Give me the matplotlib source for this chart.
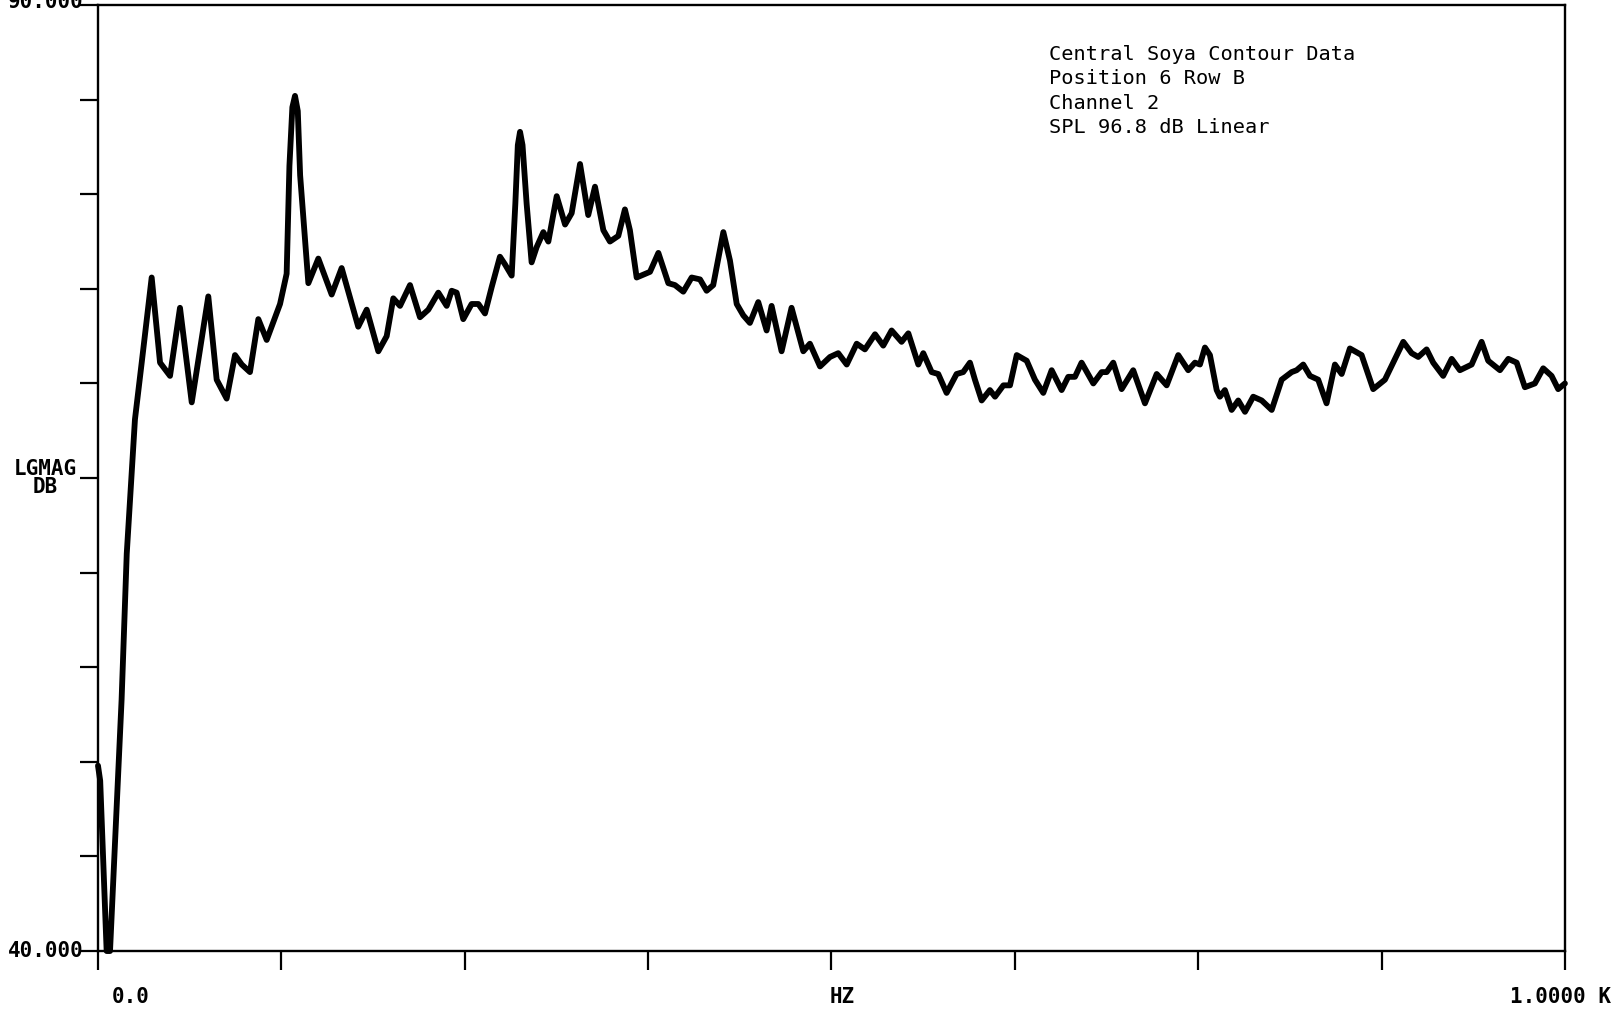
#!/usr/bin/env python3

import numpy as np
import matplotlib
matplotlib.use("Agg")
import matplotlib.pyplot as plt

# spectrum: frequency (Hz) and level (dB)
freq_hz = [
    0.0, 1.5, 5.9, 8.2, 16.1, 19.6, 25.2, 29.8, 36.6, 42.3,
    49.1, 55.9, 63.9, 75.2, 80.9, 87.7, 93.4, 98.0, 103.6, 109.3,
    115.0, 124.1, 128.6, 130.5, 132.5, 134.3, 136.2, 137.8, 143.4, 150.2,
    159.3, 166.1, 177.4, 183.2, 191.1, 196.8, 201.3, 205.9, 212.7, 219.5,
    225.2, 232.0, 237.7, 241.1, 244.5, 249.0, 254.7, 259.3, 263.8, 268.4,
    274.0, 277.4, 282.0, 284.5, 286.2, 287.7, 289.4, 292.2, 295.6, 299.0,
    303.6, 307.0, 312.7, 318.4, 322.9, 328.6, 334.2, 338.8, 344.5, 349.0,
    354.7, 359.2, 362.6, 367.2, 376.3, 382.0, 388.8, 393.3, 399.0, 404.7,
    410.4, 414.9, 419.4, 426.3, 430.8, 435.4, 439.9, 444.4, 450.1, 455.8,
    459.2, 466.0, 472.8, 480.8, 485.3, 492.2, 499.0, 504.6, 510.4, 517.2,
    522.8, 529.7, 535.3, 541.0, 547.8, 552.4, 559.2, 562.6, 568.3, 572.8,
    578.5, 585.3, 589.8, 594.4, 597.8, 602.4, 608.0, 611.5, 617.2, 621.7,
    626.3, 633.1, 638.7, 644.4, 650.1, 656.9, 661.4, 666.0, 670.5, 678.5,
    684.2, 687.6, 692.1, 697.8, 705.7, 713.7, 721.7, 728.5, 736.4, 743.2,
    747.8, 751.2, 754.6, 758.0, 762.6, 764.8, 768.2, 772.8, 777.3, 781.9,
    787.5, 793.3, 800.1, 806.9, 813.7, 817.1, 821.6, 826.2, 831.8, 837.5,
    843.2, 847.8, 853.4, 861.4, 869.3, 877.3, 889.8, 895.5, 900.0, 905.7,
    910.2, 917.0, 922.8, 928.4, 936.4, 943.2, 947.7, 955.7, 961.4, 967.1,
    972.7, 979.5, 985.2, 990.9, 995.4, 1000.0,
]
level_db = [
    49.8, 49.0, 40.0, 40.0, 53.3, 61.0, 68.1, 71.1, 75.6, 71.1,
    70.4, 74.0, 69.0, 74.6, 70.2, 69.2, 71.5, 71.0, 70.6, 73.4,
    72.3, 74.2, 75.8, 81.5, 84.6, 85.2, 84.4, 81.0, 75.3, 76.6,
    74.7, 76.1, 73.0, 73.9, 71.7, 72.5, 74.5, 74.1, 75.2, 73.5,
    73.9, 74.8, 74.1, 74.9, 74.8, 73.4, 74.2, 74.2, 73.7, 75.1,
    76.7, 76.3, 75.7, 79.5, 82.6, 83.3, 82.6, 79.5, 76.4, 77.2,
    78.0, 77.5, 79.9, 78.4, 79.0, 81.6, 78.9, 80.4, 78.1, 77.5,
    77.8, 79.2, 78.1, 75.6, 75.9, 76.9, 75.3, 75.2, 74.85, 75.6,
    75.5, 74.9, 75.2, 78.0, 76.5, 74.2, 73.6, 73.2, 74.3, 72.8,
    74.1, 71.7, 74.0, 71.7, 72.1, 70.9, 71.4, 71.6, 71.0, 72.1,
    71.8, 72.6, 72.0, 72.8, 72.2, 72.65, 71.0, 71.6, 70.6, 70.5,
    69.5, 70.5, 70.6, 71.1, 70.2, 69.1, 69.65, 69.3, 69.9, 69.9,
    71.5, 71.2, 70.2, 69.5, 70.7, 69.65, 70.35, 70.35, 71.1, 70.0,
    70.6, 70.6, 71.1, 69.7, 70.7, 68.95, 70.5, 69.9, 71.5, 70.7,
    71.1, 71.0, 71.9, 71.5, 69.65, 69.3, 69.65, 68.6, 69.1, 68.5,
    69.3, 69.1, 68.6, 70.2, 70.6, 70.7, 71.0, 70.4, 70.2, 68.95,
    71.0, 70.5, 71.85, 71.5, 69.7, 70.2, 72.2, 71.6, 71.4, 71.8,
    71.1, 70.4, 71.3, 70.7, 71.0, 72.2, 71.2, 70.7, 71.3, 71.1,
    69.8, 70.0, 70.8, 70.4, 69.7, 70.0,
]

x_ticks = np.arange(0, 1001, 125)
y_ticks = np.arange(40, 91, 5)

note_lines = [
    "Central Soya Contour Data",
    "Position 6 Row B",
    "Channel 2",
    "SPL 96.8 dB Linear",
]

MONO = "DejaVu Sans Mono"


def main():
    fig = plt.figure(figsize=(16.17, 10.14), dpi=100)
    ax = fig.add_axes([0.0606, 0.0621, 0.9072, 0.9329])

    ax.plot(freq_hz, level_db, color="black", lw=4.2,
            solid_joinstyle="round", solid_capstyle="round", clip_on=False)

    ax.set_xlim(0, 1000)
    ax.set_ylim(40, 90)
    ax.set_xticks(x_ticks)
    ax.set_yticks(y_ticks)
    ax.set_xticklabels([])
    ax.set_yticklabels([])
    ax.tick_params(axis="x", direction="out", length=14, width=1.6, color="black")
    ax.tick_params(axis="y", direction="out", length=13, width=1.6, color="black")
    for s in ax.spines.values():
        s.set_linewidth(1.7)

    lab = dict(family=MONO, fontweight="bold", fontsize=15, clip_on=False,
               textcoords="offset points")
    ax.annotate("90.000", xy=(0, 90), xytext=(-10, 2), ha="right", va="center", **lab)
    ax.annotate("40.000", xy=(0, 40), xytext=(-10, 0), ha="right", va="center", **lab)
    ax.annotate("LGMAG\nDB", xy=(0, 65), xytext=(-15, 0), ha="right", va="center",
                multialignment="center", linespacing=0.9, **lab)
    ax.annotate("0.0", xy=(0, 40), xytext=(10, -33), ha="left", va="center", **lab)
    ax.annotate("HZ", xy=(500, 40), xytext=(-1, -33), ha="left", va="center", **lab)
    ax.annotate("1.0000 K", xy=(1000, 40), xytext=(-3, -33), ha="center", va="center", **lab)

    ax.text(0.648, 0.958, "\n".join(note_lines), transform=ax.transAxes,
            ha="left", va="top", family=MONO, fontsize=14.6, linespacing=1.36)

    fig.savefig("out.png", dpi=100, facecolor="white")


if __name__ == "__main__":
    main()
